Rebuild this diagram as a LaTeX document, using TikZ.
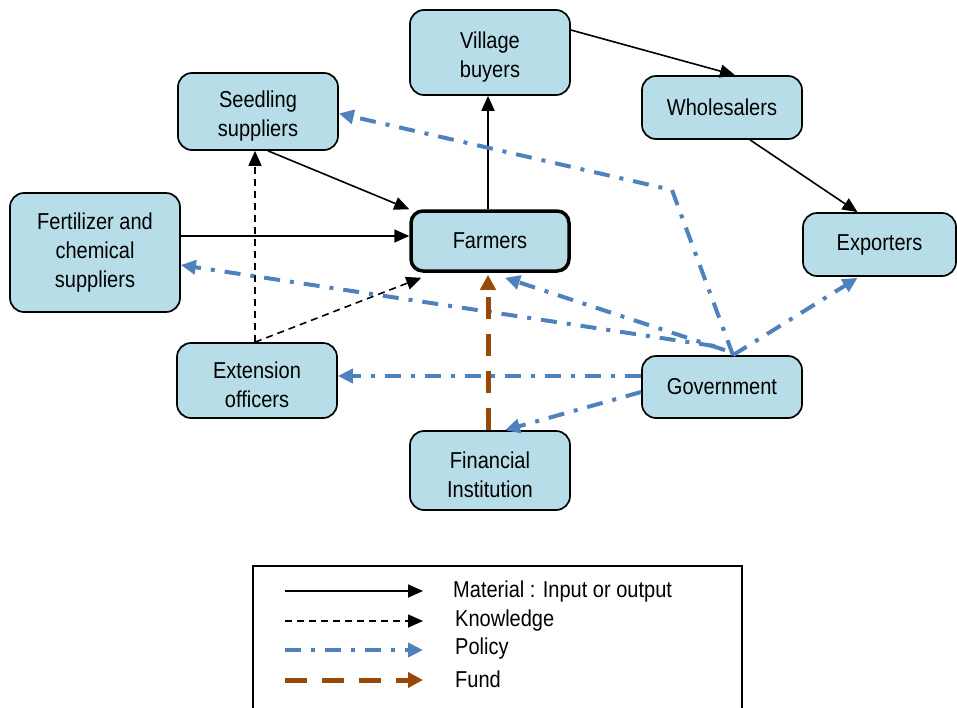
\documentclass[tikz,border=0pt]{standalone}
\usepackage{fontspec}
\setmainfont{Liberation Sans}[FakeStretch=0.87]
\usetikzlibrary{arrows.meta}
\definecolor{boxblue}{HTML}{B7DEE8}
\definecolor{policyblue}{HTML}{4F81BD}
\definecolor{fundbrown}{HTML}{984807}
\newcommand{\lowstrut}{\rule{0pt}{25pt}}
\begin{document}
\begin{tikzpicture}[x=1pt,y=-1pt,
  box/.style={draw=black, line width=1.7pt, fill=boxblue, rounded corners=14pt,
    align=center, inner sep=0pt, font=\fontsize{23}{29}\selectfont},
  material/.style={draw=black, line width=1.6pt, -{Triangle[length=15pt,width=13pt]}},
  knowledge/.style={draw=black, line width=1.6pt, dash pattern=on 7pt off 5pt,
    -{Triangle[length=15pt,width=13pt]}},
  policy/.style={draw=policyblue, line width=4pt, dash pattern=on 16pt off 10pt on 4pt off 10pt,
    -{Triangle[length=15pt,width=14pt]}},
  fund/.style={draw=fundbrown, line width=5pt, dash pattern=on 22pt off 15pt,
    -{Triangle[length=15pt,width=15pt]}},
  legtext/.style={anchor=west, inner sep=0pt, font=\fontsize{23}{28}\selectfont}]
\useasboundingbox (0,0) rectangle (957,707);

% actors
\node[box, minimum width=160pt, minimum height=85pt] (village) at (490,52.5) {\lowstrut Village\\buyers};
\node[box, minimum width=160pt, minimum height=63pt] (whole) at (722,107.5) {Wholesalers};
\node[box, minimum width=160pt, minimum height=77pt] (seed) at (258,111.5) {\lowstrut Seedling\\suppliers};
\node[box, minimum width=170pt, minimum height=119pt] (fert) at (95,252.5) {Fertilizer and\\chemical\\suppliers};
\node[box, line width=3.5pt, rounded corners=12pt, minimum width=158pt, minimum height=60pt] (farm) at (490,241) {Farmers};
\node[box, minimum width=153pt, minimum height=63pt] (exp) at (879.5,244.5) {Exporters};
\node[box, minimum width=160pt, minimum height=75pt] (ext) at (257,380.5) {\lowstrut Extension\\officers};
\node[box, minimum width=160pt, minimum height=62pt] (gov) at (722,387) {Government};
\node[box, minimum width=160pt, minimum height=79pt] (fin) at (490,470.5) {\lowstrut Financial\\Institution};

% material flows
\draw[material] ([xshift=-2pt]farm.north) -- ([xshift=-2pt]village.south);
\draw[material] ([yshift=22.5pt]village.east) -- ([xshift=13pt]whole.north);
\draw[material] ([xshift=28pt]whole.south) -- ([xshift=-22pt]exp.north);
\draw[material] ([xshift=10pt]seed.south) -- (farm.north west);
\draw[material] ([yshift=16.5pt]fert.east) -- ([yshift=5pt]farm.west);

% knowledge flows
\draw[knowledge] ([xshift=-2pt]ext.north) -- ([xshift=-3pt]seed.south);
\draw[knowledge] ([xshift=-2pt]ext.north) -- ([xshift=12pt,yshift=-5pt]farm.south west);

% policy flows
\coordinate (bend) at (672,190);
\draw[policy] ([xshift=11pt]gov.north) -- (bend) -- ([yshift=-2pt]seed.east);
\draw[policy] ([xshift=11pt]gov.north) -- ([xshift=-22pt,yshift=-1pt]exp.south);
\draw[policy] ([xshift=3pt,yshift=5pt]gov.north) -- ([xshift=15pt,yshift=-5pt]farm.south);
\draw[policy] ([xshift=-7pt,yshift=9pt]gov.north) -- ([yshift=-12.5pt]fert.east);
\draw[policy] ([yshift=11pt]gov.west) -- ([yshift=4.5pt]ext.east);
\draw[policy] ([yshift=-5pt]gov.west) -- ([xshift=15pt]fin.north);

% funding flow
\draw[fund] ([xshift=-2pt]fin.north) -- ([xshift=-2pt,yshift=-2pt]farm.south);

% legend
\node[draw=black, line width=1.6pt, minimum width=489pt, minimum height=160pt,
  inner sep=0pt] (legend) at (497.5,646) {};
\coordinate (l1) at (285,591);
\coordinate (l2) at (285,621);
\coordinate (l3) at (285,650);
\coordinate (l4) at (285,680);
\draw[material] (l1) -- ++(138,0);
\draw[knowledge] (l2) -- ++(138,0);
\draw[policy] (l3) -- ++(138,0);
\draw[fund] (l4) -- ++(138,0);
\node[legtext] (t1) at (453,592) {Material : Input or output};
\node[legtext] (t2) at (455,621) {Knowledge};
\node[legtext] (t3) at (455,649) {Policy};
\node[legtext] (t4) at (455,679) {Fund};
\end{tikzpicture}
\end{document}
